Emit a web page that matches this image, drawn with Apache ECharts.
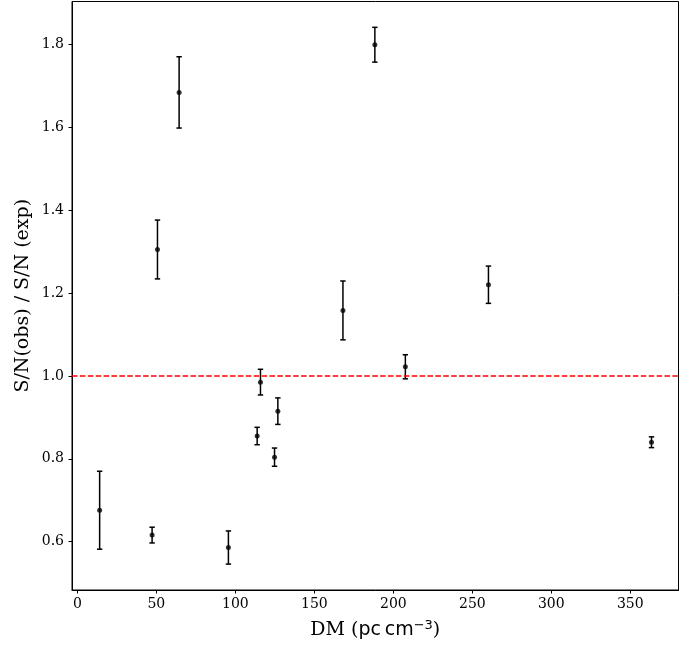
<!DOCTYPE html>
<html>
<head>
<meta charset="utf-8">
<script src="https://cdn.jsdelivr.net/npm/echarts@6/dist/echarts.min.js"></script>
<style>
html,body{margin:0;padding:0;background:#fff;}
#chart{width:697px;height:646px;}
</style>
</head>
<body>
<div id="chart"></div>
<script>
// Data
var dm    = [14.1, 47.3, 50.7, 64.4, 95.6, 113.8, 115.9, 124.8, 126.9, 168.1, 188.3, 207.6, 260.2, 363.4];
var ratio = [0.676, 0.616, 1.305, 1.684, 0.586, 0.855, 0.985, 0.804, 0.915, 1.158, 1.799, 1.022, 1.220, 0.840];
var err   = [0.094, 0.019, 0.071, 0.086, 0.040, 0.021, 0.031, 0.022, 0.032, 0.071, 0.042, 0.029, 0.045, 0.013];
var xTicks = [0, 50, 100, 150, 200, 250, 300, 350];
var yTicks = [0.6, 0.8, 1.0, 1.2, 1.4, 1.6, 1.8];
var refLine = 1.0;

var pts = dm.map(function (d, i) { return [d, ratio[i]]; });
var bars = dm.map(function (d, i) { return [d, ratio[i] - err[i], ratio[i] + err[i]]; });

var FONT = 'DejaVu Serif';
var SANS = 'DejaVu Sans';
var chart = echarts.init(document.getElementById('chart'), null, {renderer: 'canvas'});
chart.setOption({
  animation: false,
  backgroundColor: '#fff',
  grid: {left: 72, right: 18.5, top: 1.5, bottom: 56, show: true, borderColor: '#000', borderWidth: 1, containLabel: false},
  xAxis: {
    type: 'value', min: -3.4, max: 380.5,
    name: 'DM ({m|pc\u2009cm}{sup|\u22123})', nameLocation: 'middle', nameGap: 29,
    nameMoveOverlap: false,
    nameTextStyle: {fontFamily: FONT, fontSize: 19, color: '#000', verticalAlign: 'top',
      rich: {
        m: {fontFamily: SANS, fontSize: 19, color: '#000'},
        sup: {fontFamily: SANS, fontSize: 13, color: '#000', verticalAlign: 'top', padding: [0, 0, 9, 0]}
      }},
    axisLine: {show: true, onZero: false, lineStyle: {color: '#000', width: 1}},
    axisTick: {show: true, inside: false, length: 3.5, customValues: xTicks, lineStyle: {color: '#000', width: 1}},
    axisLabel: {customValues: xTicks, fontFamily: FONT, fontSize: 14, color: '#000', margin: 7},
    splitLine: {show: false}
  },
  yAxis: {
    type: 'value', min: 0.4835, max: 1.9033,
    name: 'S/N(obs) / S/N (exp)', nameLocation: 'middle', nameGap: 39,
    nameMoveOverlap: false,
    nameTextStyle: {fontFamily: FONT, fontSize: 19, color: '#000'},
    axisLine: {show: true, onZero: false, lineStyle: {color: '#000', width: 1}},
    axisTick: {show: true, inside: false, length: 3.5, customValues: yTicks, lineStyle: {color: '#000', width: 1}},
    axisLabel: {customValues: yTicks, fontFamily: FONT, fontSize: 14, color: '#000', margin: 8,
      formatter: function (v) { return v.toFixed(1); }},
    splitLine: {show: false}
  },
  series: [
    {
      type: 'custom',
      data: bars,
      encode: {x: 0, y: [1, 2]},
      renderItem: function (params, api) {
        var x = api.value(0), lo = api.value(1), hi = api.value(2);
        var pt = api.coord([x, hi]);
        var pb = api.coord([x, lo]);
        var hw = 2.7;
        var st = {stroke: '#000', lineWidth: 1.5};
        return {
          type: 'group',
          children: [
            {type: 'line', shape: {x1: pt[0], y1: pt[1], x2: pb[0], y2: pb[1]}, style: st},
            {type: 'line', shape: {x1: pt[0] - hw, y1: pt[1], x2: pt[0] + hw, y2: pt[1]}, style: st},
            {type: 'line', shape: {x1: pb[0] - hw, y1: pb[1], x2: pb[0] + hw, y2: pb[1]}, style: st}
          ]
        };
      },
      z: 2
    },
    {
      type: 'scatter',
      data: pts,
      symbol: 'circle',
      symbolSize: 5,
      itemStyle: {color: '#000'},
      z: 3,
      markLine: {
        silent: true,
        symbol: ['none', 'none'],
        label: {show: false},
        lineStyle: {color: '#ff0000', type: [5.5, 2.4], width: 1.5},
        data: [{yAxis: refLine}]
      }
    }
  ]
});
</script>
</body>
</html>
